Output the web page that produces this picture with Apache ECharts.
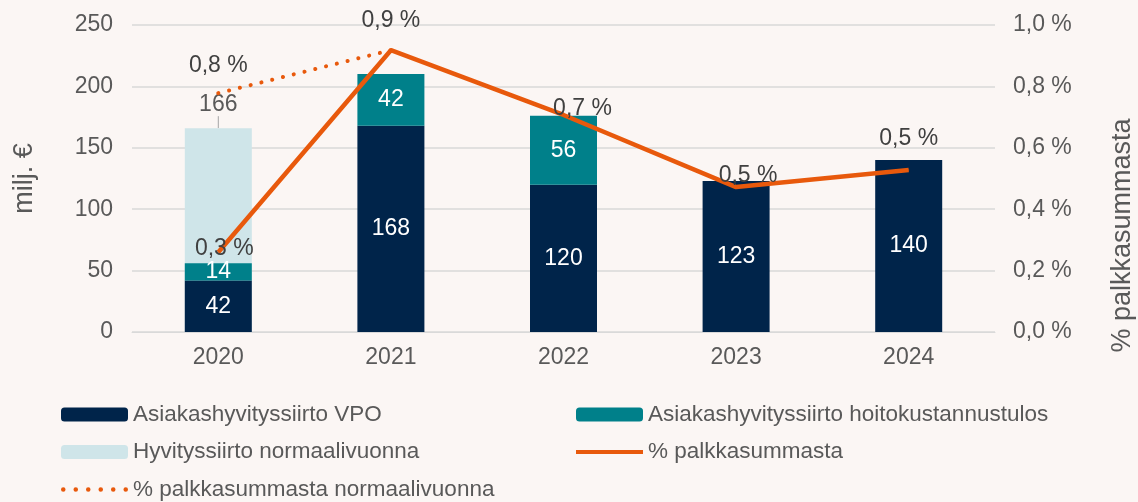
<!DOCTYPE html>
<html>
<head>
<meta charset="utf-8">
<script src="https://cdn.jsdelivr.net/npm/echarts@6/dist/echarts.min.js"></script>
<style>
  html, body { margin: 0; padding: 0; background: #fbf6f4; }
  #chart { width: 1138px; height: 502px; }
</style>
</head>
<body>
<div id="chart"></div>
<script>
// Vuodet
const years = ['2020', '2021', '2022', '2023', '2024'];

// Siirrot, milj. €
const vpo = [42, 168, 120, 123, 140];
const hoitokustannustulos = [14, 42, 56, null, null];
const normaalivuonna = [166, null, null, null, null];

// Osuus palkkasummasta, %
const palkkasumma = [0.26, 0.918, 0.707, 0.472, 0.528];
const palkkasummaNormaali = [0.778, 0.918, null, null, null];

// Akselien asteikot
const leftTicks = { min: 0, max: 250, interval: 50 };
const rightTicks = { min: 0, max: 1, interval: 0.2 };

const NAVY = '#00244a';
const TEAL = '#00808a';
const LIGHT = '#cfe5e9';
const ORANGE = '#e8590c';
const TEXT = '#595959';
const FONT = '"Liberation Sans", Arial, sans-serif';

const pct = v => v.toFixed(1).replace('.', ',') + ' %';

// Prosenttitunnisteiden siirrot viivan pisteistä
const pctOffsets = [[6, 13], [0, -13], [19, 10], [12, 5], [0, -15]];

const chart = echarts.init(document.getElementById('chart'), null, { renderer: 'canvas' });

const barLabel = {
  show: true, position: 'inside', color: '#ffffff',
  fontSize: 23, fontFamily: FONT
};

const legendText = { fontSize: 22.5, color: TEXT, fontFamily: FONT, lineHeight: 22 };

chart.setOption({
  backgroundColor: '#fbf6f4',
  animation: false,
  textStyle: { fontFamily: FONT, color: TEXT },
  grid: { left: 132, right: 143, top: 25, bottom: 170, outerBoundsMode: 'none', containLabel: false },
  legend: [
    {
      orient: 'vertical', left: 61, top: 403, padding: 0, height: 100,
      itemWidth: 67, itemHeight: 14, itemGap: 14.5,
      textStyle: legendText,
      data: [
        'Asiakashyvityssiirto VPO',
        'Hyvityssiirto normaalivuonna',
        {
          name: '% palkkasummasta normaalivuonna',
          icon: 'path://M0,2a2,2 0 1,0 4,0a2,2 0 1,0 -4,0M11,2a2,2 0 1,0 4,0a2,2 0 1,0 -4,0M22,2a2,2 0 1,0 4,0a2,2 0 1,0 -4,0M33,2a2,2 0 1,0 4,0a2,2 0 1,0 -4,0M44,2a2,2 0 1,0 4,0a2,2 0 1,0 -4,0M55,2a2,2 0 1,0 4,0a2,2 0 1,0 -4,0'
        }
      ]
    },
    {
      orient: 'vertical', left: 576, top: 403, padding: 0,
      itemWidth: 67, itemHeight: 14, itemGap: 14.5,
      textStyle: legendText,
      data: [
        'Asiakashyvityssiirto hoitokustannustulos',
        { name: '% palkkasummasta', icon: 'path://M0,0L68,0L68,4L0,4Z' }
      ]
    }
  ],
  xAxis: {
    type: 'category',
    data: years,
    axisLine: { lineStyle: { color: '#d9d9d9', width: 1 } },
    axisTick: { show: false },
    axisLabel: { fontSize: 23, color: TEXT, margin: 14, fontFamily: FONT }
  },
  yAxis: [
    {
      type: 'value',
      min: leftTicks.min, max: leftTicks.max, interval: leftTicks.interval,
      name: 'milj. €', nameLocation: 'middle', nameGap: 94, nameRotate: 90,
      nameTextStyle: { fontSize: 27, color: TEXT, fontFamily: FONT },
      axisLine: { show: false },
      axisTick: { show: false },
      axisLabel: { fontSize: 23, color: TEXT, margin: 19, fontFamily: FONT },
      splitLine: { lineStyle: { color: '#d9d9d9', width: 1.5 } }
    },
    {
      type: 'value',
      min: rightTicks.min, max: rightTicks.max, interval: rightTicks.interval,
      name: '% palkkasummasta', nameLocation: 'middle', nameGap: 114, nameRotate: 90,
      nameTextStyle: { fontSize: 27, color: TEXT, fontFamily: FONT, padding: [0, 114, 0, 0] },
      axisLine: { show: false },
      axisTick: { show: false },
      axisLabel: { fontSize: 23, color: TEXT, margin: 18, fontFamily: FONT, formatter: pct },
      splitLine: { show: false }
    }
  ],
  series: [
    {
      name: 'Hyvityssiirto normaalivuonna',
      type: 'bar',
      data: normaalivuonna,
      barWidth: 67,
      barGap: '-100%',
      itemStyle: { color: LIGHT },
      label: {
        show: true, position: 'top', distance: 0,
        color: TEXT, fontSize: 23, fontFamily: FONT
      },
      labelLayout: { dy: -12 },
      labelLine: { show: true, lineStyle: { color: '#a6a6a6', width: 1 } },
      z: 1
    },
    {
      name: 'Asiakashyvityssiirto VPO',
      type: 'bar',
      stack: 'siirto',
      data: vpo,
      barWidth: 67,
      barGap: '-100%',
      itemStyle: { color: NAVY },
      label: barLabel,
      z: 2
    },
    {
      name: 'Asiakashyvityssiirto hoitokustannustulos',
      type: 'bar',
      stack: 'siirto',
      data: hoitokustannustulos,
      barWidth: 67,
      barGap: '-100%',
      itemStyle: { color: TEAL },
      label: barLabel,
      z: 2
    },
    {
      name: '% palkkasummasta normaalivuonna',
      type: 'line',
      yAxisIndex: 1,
      data: palkkasummaNormaali.map((v, i) => ({
        value: v,
        label: { show: i === 0, offset: [0, -11] }
      })),
      symbol: 'circle', symbolSize: 1,
      itemStyle: { color: ORANGE },
      lineStyle: { color: ORANGE, width: 4, type: [0.1, 11], cap: 'round' },
      label: {
        show: true, position: 'top', distance: 5,
        color: '#404040', fontSize: 23, fontFamily: FONT, lineHeight: 22,
        formatter: p => pct(p.value)
      },
      z: 3
    },
    {
      name: '% palkkasummasta',
      type: 'line',
      yAxisIndex: 1,
      data: palkkasumma.map((v, i) => ({
        value: v,
        label: { offset: pctOffsets[i] }
      })),
      symbol: 'circle', symbolSize: 1,
      itemStyle: { color: ORANGE },
      lineStyle: { color: ORANGE, width: 4.5 },
      label: {
        show: true, position: 'top', distance: 5,
        color: '#404040', fontSize: 23, fontFamily: FONT, lineHeight: 22,
        formatter: p => pct(p.value)
      },
      z: 4
    }
  ]
});
</script>
</body>
</html>
